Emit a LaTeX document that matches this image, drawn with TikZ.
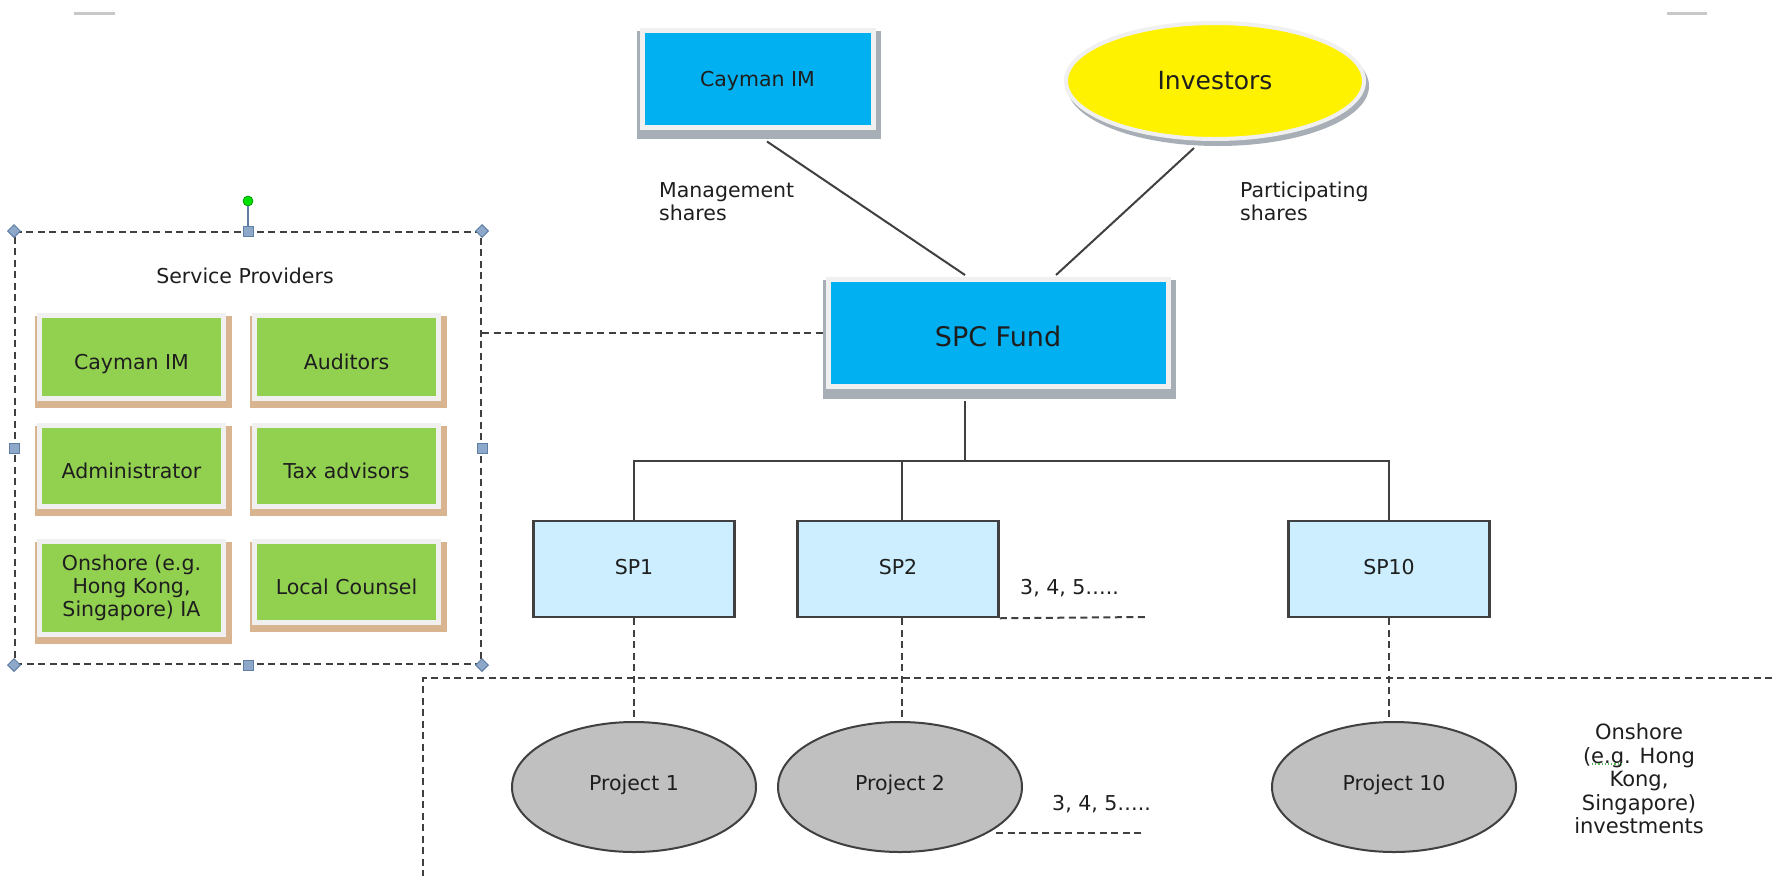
\documentclass[tikz,border=0pt]{standalone}
\usepackage{fontspec}
\setmainfont{DejaVu Sans}
\usetikzlibrary{shapes.geometric,calc}
\pgfdeclarelayer{paper}
\pgfdeclarelayer{background}
\pgfsetlayers{paper,background,main}

\definecolor{ink}{HTML}{1E1E1E}
\definecolor{cyanfill}{HTML}{00B0F0}
\definecolor{framegray}{HTML}{F0F0F0}
\definecolor{shadowgray}{HTML}{A8AEB6}
\definecolor{greenfill}{HTML}{92D050}
\definecolor{tanshadow}{HTML}{D8B490}
\definecolor{spfill}{HTML}{CCEEFF}
\definecolor{projfill}{HTML}{C0C0C0}
\definecolor{edge}{HTML}{404040}
\definecolor{handlefill}{HTML}{8EA8CA}
\definecolor{handleedge}{HTML}{5F7EA6}
\definecolor{marks}{HTML}{C8C8C8}
\definecolor{rotgreen}{HTML}{00E000}
\definecolor{spellgreen}{HTML}{5CB85C}

\tikzset{
  x=1pt, y=-1pt,
  every node/.style={font=\fontsize{20.5}{23}\selectfont, text=ink, inner sep=0pt},
  % cap height centred on the node centre
  oneline/.style={text height=15pt, text depth=0pt},
  bluebox/.style={rectangle, fill=cyanfill, draw=framegray, line width=5pt},
  greenbox/.style={rectangle, fill=greenfill, draw=framegray, line width=5pt,
    minimum width=184pt, align=center},
  greentext/.style={text height=25pt, text depth=0pt},
  spbox/.style={rectangle, fill=spfill, draw=edge, line width=2.5pt,
    minimum width=201pt, minimum height=96pt, text height=15pt, text depth=4pt},
  projbox/.style={ellipse, fill=projfill, draw=edge, line width=2pt,
    minimum width=244pt, minimum height=130pt, text height=15pt, text depth=8pt},
  link/.style={draw=edge, line width=2pt},
  dashlink/.style={draw=edge, line width=2pt, dash pattern=on 7pt off 4.5pt},
  handlesq/.style={rectangle, fill=handlefill, draw=handleedge, line width=1pt, minimum size=10pt},
  handlecorner/.style={diamond, fill=handlefill, draw=handleedge, line width=1pt, minimum size=13pt},
}

\begin{document}
\begin{tikzpicture}
\useasboundingbox (0,0) rectangle (1772,876);
\begin{pgfonlayer}{paper}
  \fill[white] (0,0) rectangle (1772,876);
\end{pgfonlayer}

% page corner marks
\draw[marks, line width=3pt] (74,13) -- (115,13);
\draw[marks, line width=3pt] (1667,13) -- (1707,13);

% top level
\node[bluebox, oneline, minimum width=231pt, minimum height=97pt] (caymantop) at (757.5,78.5) {Cayman IM};
\node[ellipse, fill=yellow, draw=framegray, line width=4pt, minimum width=298pt,
      minimum height=116pt, font=\fontsize{25}{28}\selectfont,
      text height=18.2pt, text depth=2pt] (inv) at (1215,81) {Investors};
\node[bluebox, minimum width=340pt, minimum height=107pt,
      font=\fontsize{27}{30}\selectfont, text height=27.7pt, text depth=0pt] (spc) at (998,333) {SPC Fund};

\node[anchor=west, align=left] (mgmt) at (659,201.5) {Management\\shares};
\node[anchor=west, align=left] (part) at (1240,201.5) {Participating\\shares};

\draw[link] ($(caymantop.south)+(9.5,12)$) -- ($(spc.north)+(-33,-2)$);
\draw[link] ($(inv.south)+(-21,7)$) -- ($(spc.north)+(58,-2)$);

% service providers group
\node[draw=edge, line width=2pt, dash pattern=on 7pt off 4.5pt,
      minimum width=466pt, minimum height=432pt] (spframe) at (248,448) {};
\node[oneline] (sptitle) at (245,276) {Service Providers};
\node[greenbox, greentext, minimum height=83pt] (gcay) at (131.5,357) {Cayman IM};
\node[greenbox, greentext, minimum height=83pt] (gaud) at (346.5,357) {Auditors};
\node[greenbox, greentext, minimum height=81pt] (gadm) at (131.5,466) {Administrator};
\node[greenbox, greentext, minimum height=81pt] (gtax) at (346.5,466) {Tax advisors};
\node[greenbox, minimum height=93pt] (gia) at (131.5,588) {Onshore (e.g.\\Hong Kong,\\Singapore) IA};
\node[greenbox, greentext, minimum height=81pt] (gcoun) at (346.5,582) {Local Counsel};

% selection handles
\node[circle, fill=rotgreen, draw=rotgreen!60!black, line width=0.6pt, minimum size=10pt] (rot) at (248,201) {};
\draw[handleedge, line width=1.5pt] (spframe.north) -- (rot);
\foreach \a/\n in {north west/hnw,north east/hne,south west/hsw,south east/hse}
  \node[handlecorner] (\n) at (spframe.\a) {};
\foreach \a/\n in {north/hn,south/hs,west/hw,east/he}
  \node[handlesq] (\n) at (spframe.\a) {};

\draw[dashlink] (spframe.east |- spc.west) -- (spc.west);

% segregated portfolios
\node[spbox] (sp1) at (634,569) {SP1};
\node[spbox] (sp2) at (898,569) {SP2};
\node[spbox] (sp10) at (1389,569) {SP10};

\coordinate (bus) at (965,461);
\draw[link] ($(bus |- spc.south)+(0,11.5)$) -- (bus);
\draw[link] (sp1.north) |- (bus) -| (sp10.north);
\coordinate (sp2top) at ($(sp2.north)+(4,0)$);
\draw[link] (sp2top) -- (sp2top |- bus);

\coordinate (moreA) at (1145,617);
\draw[dashlink] (sp2.south east) -- (moreA);
\node[anchor=west, oneline] (moreAtxt) at (1020,587) {3, 4, 5…..};

% onshore / offshore divider
\coordinate (divright) at (1772,678);
\coordinate (divcorner) at (423,678);
\coordinate (divbottom) at (423,876);
\draw[dashlink] (divright) -- (divcorner) -- (divbottom);

% projects
\node[projbox] (p1) at (634,787) {Project 1};
\node[projbox] (p2) at (900,787) {Project 2};
\node[projbox] (p10) at (1394,787) {Project 10};

\draw[dashlink] (sp1.south) -- (sp1.south |- p1.north);
\coordinate (sp2bot) at ($(sp2.south)+(4,0)$);
\draw[dashlink] (sp2bot) -- (sp2bot |- p2.north);
\draw[dashlink] (sp10.south) -- (sp10.south |- p10.north);

\coordinate (moreBstart) at (996,833);
\coordinate (moreBend) at (1145,833);
\draw[dashlink] (moreBstart) -- (moreBend);
\node[anchor=west, oneline] (moreBtxt) at (1052,803) {3, 4, 5…..};

\node[align=center, font=\fontsize{21}{23.5}\selectfont] (onshore) at (1639,779)
  {Onshore\\(e.g. Hong\\Kong,\\Singapore)\\investments};
\draw[spellgreen, line width=1.2pt, dotted] (1592,764) -- (1623,764);

% shadows
\begin{pgfonlayer}{background}
  \foreach \n in {caymantop,spc}
    \fill[shadowgray] ($(\n.north west)+(-2.5,3)$) rectangle ($(\n.south east)+(5.5,9.5)$);
  \foreach \n in {gcay,gaud,gadm,gtax,gia,gcoun}
    \fill[tanshadow] ($(\n.north west)+(-2.5,3)$) rectangle ($(\n.south east)+(5.5,7)$);
  \fill[shadowgray] ($(inv.center)+(3,5)$) ellipse [x radius=151pt, y radius=60pt];
\end{pgfonlayer}
\end{tikzpicture}
\end{document}
